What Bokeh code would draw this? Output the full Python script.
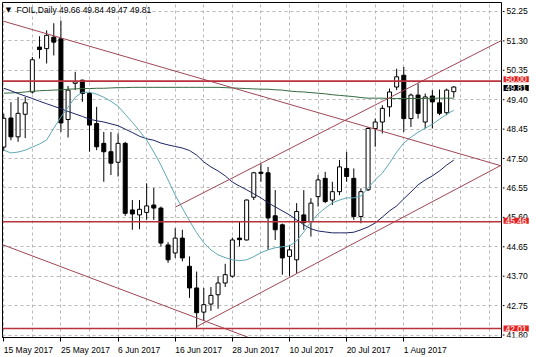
from bokeh.plotting import figure
from bokeh.layouts import row
from bokeh.models import Range1d, FixedTicker, Span, Label, ColumnDataSource
from bokeh.core.properties import value
from bokeh.embed import file_html
from bokeh.resources import INLINE

# ---------------- data ----------------
symbol_title = "FOIL,Daily"
dates = ["15 May 2017", "25 May 2017", "6 Jun 2017", "16 Jun 2017",
         "28 Jun 2017", "10 Jul 2017", "20 Jul 2017", "1 Aug 2017"]
date_bars = [0, 8, 16, 24, 32, 40, 48, 56]

opens = [47.87, 48.81, 48.20, 48.93, 49.65, 51.10, 51.05, 51.42, 51.37, 48.76,
         49.93, 50.03, 49.60, 48.63, 47.99, 47.72, 47.38, 47.99, 45.84, 45.68,
         45.76, 46.00, 45.90, 44.71, 44.45, 44.93, 44.02, 43.32, 42.54, 42.80,
         43.10, 43.48, 43.70, 44.93, 44.87, 46.25, 47.06, 47.04, 45.65, 45.36,
         44.34, 44.23, 45.68, 45.46, 46.27, 46.86, 46.16, 46.43, 47.18, 46.86,
         45.63, 46.49, 48.47, 48.68, 49.17, 49.81, 50.19, 48.79, 49.55, 48.68,
         49.52, 49.30, 48.98, 49.66]
highs = [48.95, 49.32, 49.49, 49.49, 50.78, 51.45, 51.64, 51.87, 51.96, 49.84,
         50.30, 50.05, 49.65, 49.17, 48.36, 48.36, 48.31, 48.04, 46.16, 46.16,
         46.70, 46.55, 45.95, 44.80, 45.25, 45.20, 44.34, 43.85, 43.32, 43.35,
         43.70, 44.10, 44.95, 45.46, 46.18, 47.07, 47.34, 47.23, 46.48, 45.40,
         44.71, 46.06, 46.48, 46.22, 46.97, 47.07, 46.75, 47.45, 47.72, 47.18,
         46.54, 48.52, 48.79, 49.22, 49.76, 50.40, 50.46, 49.60, 49.92, 49.60,
         49.71, 49.73, 49.76, 49.84]
lows = [47.75, 48.09, 48.04, 48.16, 49.60, 50.73, 50.57, 50.83, 48.36, 48.18,
        49.71, 49.33, 47.72, 47.77, 46.75, 46.97, 46.92, 45.65, 45.20, 45.22,
        45.52, 45.52, 44.66, 44.13, 44.29, 44.18, 43.00, 42.03, 42.25, 42.58,
        42.65, 43.35, 43.65, 44.66, 44.85, 46.16, 46.75, 44.55, 44.87, 43.75,
        43.70, 43.80, 45.20, 44.98, 45.95, 46.06, 46.00, 46.32, 46.75, 45.52,
        45.41, 46.45, 47.88, 48.31, 48.85, 49.71, 48.36, 48.52, 48.79, 48.47,
        48.47, 48.90, 48.90, 49.47]
closes = [48.80, 48.20, 48.96, 49.30, 50.69, 51.02, 51.48, 51.26, 48.65, 49.71,
          49.98, 49.60, 48.58, 47.88, 47.72, 47.35, 47.99, 45.73, 45.71, 45.86,
          45.97, 45.90, 44.77, 44.23, 44.93, 44.29, 43.32, 42.52, 42.78, 43.08,
          43.48, 43.75, 44.87, 44.88, 46.16, 47.04, 47.02, 45.58, 45.20, 44.29,
          44.55, 45.79, 45.43, 46.06, 46.81, 46.11, 46.43, 47.23, 46.92, 45.63,
          46.43, 48.47, 48.68, 49.12, 49.65, 50.14, 48.79, 49.55, 48.96, 49.49,
          49.33, 48.96, 49.71, 49.81]

ma_fast = [47.77, 47.68, 47.71, 47.77, 47.87, 47.97, 48.10, 48.48, 48.84, 49.16,
           49.48, 49.64, 49.64, 49.58, 49.48, 49.35, 49.19, 48.93, 48.67, 48.39,
           48.10, 47.71, 47.29, 46.81, 46.32, 45.90, 45.49, 45.10, 44.78, 44.55,
           44.39, 44.30, 44.23, 44.20, 44.23, 44.33, 44.46, 44.55, 44.62, 44.65,
           44.68, 44.84, 45.13, 45.45, 45.71, 45.90, 46.07, 46.16, 46.23, 46.23,
           46.29, 46.55, 46.81, 47.03, 47.35, 47.71, 48.00, 48.19, 48.35, 48.48,
           48.61, 48.77, 48.93, 49.06]
ma_mid = [49.77, 49.69, 49.60, 49.52, 49.44, 49.35, 49.27, 49.19, 49.11, 49.02,
          48.94, 48.86, 48.77, 48.72, 48.68, 48.62, 48.56, 48.45, 48.34, 48.22,
          48.14, 48.09, 48.00, 47.94, 47.89, 47.84, 47.76, 47.61, 47.39, 47.23,
          47.10, 46.94, 46.74, 46.61, 46.49, 46.36, 46.23, 46.07, 45.94, 45.81,
          45.68, 45.52, 45.36, 45.23, 45.16, 45.13, 45.10, 45.10, 45.10, 45.12,
          45.20, 45.29, 45.42, 45.61, 45.81, 45.97, 46.20, 46.42, 46.65, 46.81,
          46.94, 47.10, 47.29, 47.45]
ma_slow = [49.61, 49.62, 49.63, 49.65, 49.67, 49.69, 49.70, 49.71, 49.72, 49.74,
           49.75, 49.76, 49.76, 49.77, 49.77, 49.78, 49.79, 49.79, 49.80, 49.80,
           49.80, 49.80, 49.80, 49.80, 49.80, 49.80, 49.80, 49.80, 49.80, 49.80,
           49.80, 49.79, 49.78, 49.77, 49.76, 49.75, 49.74, 49.74, 49.72, 49.71,
           49.68, 49.66, 49.65, 49.63, 49.61, 49.59, 49.56, 49.54, 49.52, 49.50,
           49.47, 49.45, 49.45, 49.45, 49.44, 49.44, 49.44, 49.44, 49.44, 49.44,
           49.45, 49.45, 49.45, 49.45]

price_ticks = [52.25, 51.30, 50.35, 49.40, 48.45, 47.50, 46.55, 45.60,
               44.65, 43.70, 42.75, 41.80]
levels = [50.00, 45.46, 42.01]

# trend lines: (bar index, price) anchors
trend_a_x, trend_a_y = [-1, 70], [52.00, 47.24]
trend_b_x, trend_b_y = [-1, 36], [44.79, 41.57]
channel_top_x, channel_top_y = [24, 70.5], [45.93, 51.41]
channel_bot_x, channel_bot_y = [27, 70.5], [42.07, 47.39]

# ---------------- layout / style ----------------
W, H = 536, 357
LB, TB, BB = 2, 2, 19
MAIN_W = 502            # frame spans px 2..501
AX_W = W - MAIN_W       # price-scale strip on the right
X0, X1 = -0.18, 69.68
Y0, Y1 = 41.72, 52.54
FONT = "Liberation Sans"
FSZ = 8.5
FS = "8.5px"
bar_px = (MAIN_W - LB - 1) / (X1 - X0)
px_per_price = (H - TB - BB) / (Y1 - Y0)

yr = Range1d(Y0, Y1)
p = figure(width=MAIN_W, height=H, x_range=Range1d(X0, X1), y_range=yr,
           y_axis_location=None, output_backend="svg", toolbar_location=None,
           min_border_left=LB, min_border_top=TB, min_border_right=1,
           min_border_bottom=BB)
p.background_fill_color = "white"
p.border_fill_color = "white"
p.outline_line_color = "black"
p.outline_line_width = 1

# bottom date axis: labels left-aligned at their bar (centre computed from width)
CW = {'0': .556, '1': .556, '2': .556, '3': .556, '4': .556, '5': .556, '6': .556,
      '7': .556, '8': .556, '9': .556, ' ': .278, 'M': .833, 'a': .556, 'y': .5,
      'J': .5, 'u': .556, 'n': .556, 'l': .222, 'A': .667, 'g': .556}
centers = [round(b + sum(CW.get(ch, .556) for ch in d) * FSZ / 2 / bar_px, 3)
           for b, d in zip(date_bars, dates)]
xa = p.xaxis[0]
xa.ticker = FixedTicker(ticks=centers, minor_ticks=date_bars)
xa.major_label_overrides = {c: d for c, d in zip(centers, dates)}
xa.major_tick_out = 0
xa.major_tick_in = 0
xa.major_tick_line_color = None
xa.minor_tick_out = 4
xa.minor_tick_in = 0
xa.minor_tick_line_color = "black"
xa.major_label_standoff = 3
xa.major_label_text_font = FONT
xa.major_label_text_font_size = FS
xa.major_label_text_color = "black"
xa.axis_line_color = "black"

# grid
p.xgrid.ticker = FixedTicker(ticks=list(range(0, 72, 4)))
p.ygrid.ticker = FixedTicker(ticks=price_ticks)
for g in (p.xgrid[0], p.ygrid[0]):
    g.grid_line_color = "#b9b9b9"
    g.grid_line_dash = "3 3"
    g.grid_line_width = 1

# candles
bars = list(range(len(opens)))
src = ColumnDataSource(dict(
    x=bars, o=opens, h=highs, l=lows, c=closes,
    top=[max(a, b) for a, b in zip(opens, closes)],
    bottom=[min(a, b) for a, b in zip(opens, closes)],
    fill=["white" if c >= o else "black" for o, c in zip(opens, closes)],
))
p.segment(x0="x", y0="l", x1="x", y1="h", line_color="black", line_width=1, source=src)
p.vbar(x="x", width=0.56, top="top", bottom="bottom", fill_color="fill",
       line_color="black", line_width=1, source=src)

# moving averages
p.line(bars, ma_slow, line_color="#356b40", line_width=1)
p.line(bars, ma_mid, line_color="#1c2563", line_width=1)
p.line(bars, ma_fast, line_color="#5ea8b2", line_width=1)

# trend lines
TL = "#a04655"
p.line(trend_a_x, trend_a_y, line_color=TL, line_width=1)
p.line(trend_b_x, trend_b_y, line_color=TL, line_width=1)
p.line(channel_top_x, channel_top_y, line_color=TL, line_width=1)
p.line(channel_bot_x, channel_bot_y, line_color=TL, line_width=1)

# horizontal levels
for lv in levels:
    p.add_layout(Span(location=lv, dimension="width", line_color="#b8323c",
                      line_width=1.6))

# header
hx = X0 + (16 - LB) / bar_px
hy = Y1 - (9.5 - TB) / px_per_price
p.add_layout(Label(x=X0 + (8 - LB) / bar_px, y=hy, text="▼", text_font="DejaVu Sans",
                   text_font_size="7px", text_align="center", text_baseline="middle",
                   text_color="black"))
header = f"{symbol_title} {opens[-1]:.2f} {highs[-1]:.2f} {lows[-1]:.2f} {closes[-1]:.2f}"
p.add_layout(Label(x=hx, y=hy, text=header, text_font=FONT, text_font_size=FS,
                   text_align="left", text_baseline="middle", text_color="black"))

# ---------------- price scale strip (shares the price range) ----------------
pa = figure(width=AX_W, height=H, x_range=Range1d(0, AX_W), y_range=yr,
            x_axis_location=None, y_axis_location=None, output_backend="svg",
            toolbar_location=None, min_border_left=0, min_border_right=0,
            min_border_top=TB, min_border_bottom=BB)
pa.background_fill_color = "white"
pa.border_fill_color = "white"
pa.outline_line_color = None
pa.grid.visible = False

# tick marks and price labels
pa.segment(x0=[0] * len(price_ticks), y0=price_ticks, x1=[2] * len(price_ticks),
           y1=price_ticks, line_color="black", line_width=1)
pa.text(x=[4] * len(price_ticks), y=price_ticks,
        text=[f"{v:.2f}" for v in price_ticks], text_font=value(FONT),
        text_font_size=value(FS), text_color="black", text_align="left",
        text_baseline="middle")

# price tags
pa.add_layout(Label(x=1, y=closes[-1], y_offset=-1, text=f"{closes[-1]:.2f}",
                    text_font=FONT, text_font_size=FS, text_color="white",
                    text_align="left", text_baseline="middle",
                    background_fill_color="black", padding=(2, 0)))
for lv, off in zip(levels, [2, 1, 0]):
    pa.add_layout(Label(x=1, y=lv, y_offset=off, text=f"{lv:.2f}",
                        text_font=FONT, text_font_size=FS, text_color="white",
                        text_align="left", text_baseline="middle",
                        background_fill_color="#e2231f", padding=(2, 0)))

layout = row(p, pa, spacing=0)
open("out.html", "w").write(file_html(layout, INLINE))
